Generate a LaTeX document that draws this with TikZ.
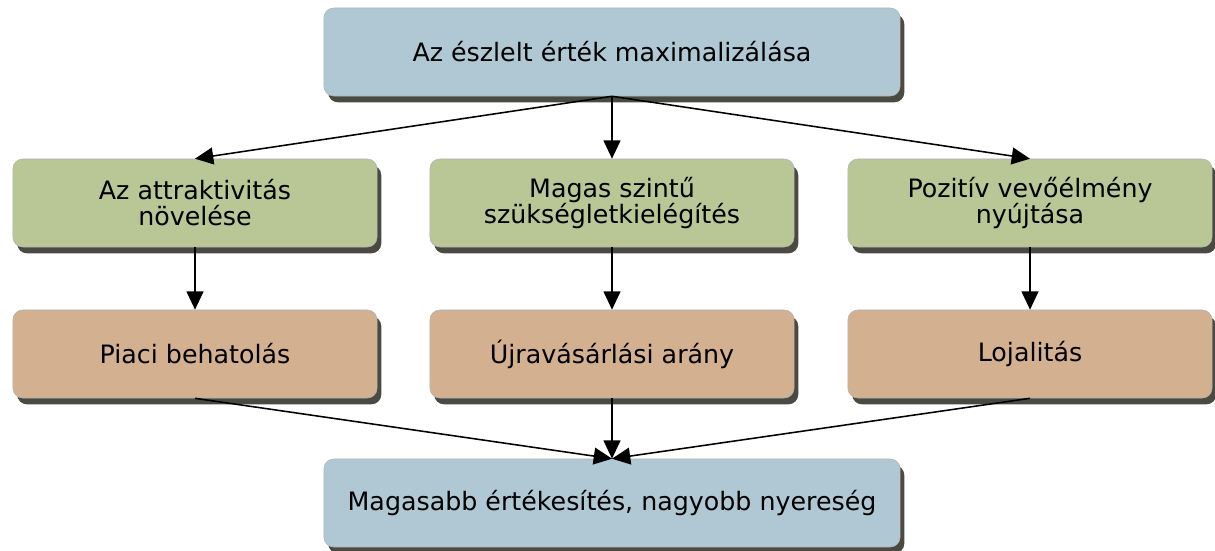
\documentclass[tikz,border=0pt]{standalone}
\usepackage{fontspec}
\setmainfont{DejaVu Sans}
\usetikzlibrary{arrows.meta,shadows}

\definecolor{boxblue}{RGB}{176,200,212}
\definecolor{boxgreen}{RGB}{185,199,151}
\definecolor{boxtan}{RGB}{211,176,143}
\definecolor{shadowgray}{RGB}{74,74,66}

\begin{document}
\begin{tikzpicture}[x = 0.025cm, y = -0.025cm,
        box/.style = {draw = gray!60, rounded corners = 7pt, align = center,
            minimum height = 2.2cm, inner sep = 0pt,
            font = \fontsize{18}{18.5}\selectfont,
            drop shadow = {shadow xshift = 3pt, shadow yshift = -4.5pt,
                fill = shadowgray, opacity = 1}},
        wide/.style = {box, minimum width = 14.4cm, fill = boxblue},
        goal/.style = {box, minimum width = 9.1cm, fill = boxgreen},
        result/.style = {box, minimum width = 9.1cm, fill = boxtan},
        link/.style = {-{Triangle[length = 13pt, width = 12pt]}, line width = 1.1pt}]

        \useasboundingbox (0, 0) rectangle (1215, 551);

        % top and bottom
        \node[wide] (value) at (612, 52) {Az észlelt érték maximalizálása};
        \node[wide] (profit) at (612, 503) {Magasabb értékesítés, nagyobb nyereség};

        % middle row
        \node[goal] (attract) at (195, 203) {Az attraktivitás\\növelése};
        \node[goal] (needs) at (612, 203) {Magas szintű\\szükségletkielégítés};
        \node[goal] (experience) at (1030, 203) {Pozitív vevőélmény\\nyújtása};

        \node[result] (market) at (195, 354) {Piaci behatolás};
        \node[result] (rebuy) at (612, 354) {Újravásárlási arány};
        \node[result] (loyal) at (1030, 354) {Lojalitás};

        \foreach \g/\r in {attract/market, needs/rebuy, experience/loyal} {
            \draw[link] (value.south) -- (\g.north);
            \draw[link] (\g.south) -- (\r.north);
            \draw[link] (\r.south) -- (profit.north);
        }

    \end{tikzpicture}
\end{document}
